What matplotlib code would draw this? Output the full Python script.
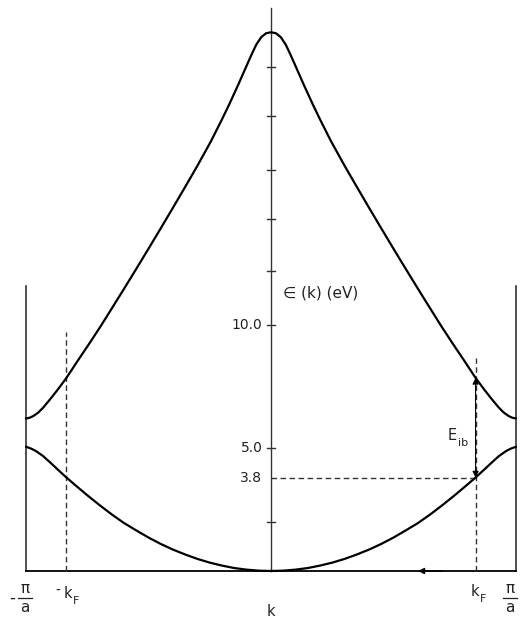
import numpy as np
import matplotlib
matplotlib.use("Agg")
import matplotlib.pyplot as plt

# Band energies (eV) on the half zone 0 <= k <= pi/a (k in units of pi/a); mirrored to -k
k_lower = [0.0, 0.05, 0.1, 0.15, 0.2, 0.25, 0.3, 0.35, 0.4, 0.45, 0.5, 0.55, 0.6, 0.65,
           0.7, 0.75, 0.8, 0.835, 0.87, 0.9, 0.93, 0.96, 0.98, 1.0]
e_lower = [0.0, 0.014, 0.055, 0.12, 0.22, 0.34, 0.49, 0.67, 0.87, 1.1, 1.36, 1.65, 1.95, 2.3,
           2.68, 3.08, 3.5, 3.8, 4.12, 4.4, 4.67, 4.88, 4.98, 5.05]

k_upper = [0.0, 0.02, 0.04, 0.06, 0.08, 0.1, 0.135, 0.17, 0.2, 0.245, 0.3, 0.35, 0.4, 0.45,
           0.5, 0.55, 0.6, 0.65, 0.694, 0.74, 0.79, 0.835, 0.87, 0.9, 0.93, 0.95, 0.97,
           0.985, 1.0]
e_upper = [21.9, 21.86, 21.7, 21.4, 20.98, 20.53, 19.74, 18.98, 18.36, 17.47, 16.48, 15.62,
           14.77, 13.93, 13.1, 12.28, 11.47, 10.67, 9.97, 9.27, 8.53, 7.85, 7.38, 7.0,
           6.64, 6.44, 6.3, 6.23, 6.2]

k_fermi = 0.835
e_fermi = 3.8
e_upper_at_kf = 7.85
tick_values = [2.0, 5.0, 10.0, 12.2, 14.3, 16.3, 18.5, 20.5]
labelled_ticks = {5.0: "5.0", 10.0: "10.0", 3.8: "3.8"}
axis_top = 22.9
edge_top = 11.6
kf_top_left = 9.7
kf_top_right = 8.65

INK = "#222222"

fig = plt.figure(figsize=(5.2, 6.21), dpi=100)
ax = fig.add_axes([0, 0, 1, 1])
ax.set_xlim(-271 / 245, 249 / 245)
ax.set_ylim(-50 / 24.6, 571 / 24.6)
ax.axis("off")


def k_full(ks, es):
    ks = np.asarray(ks)
    es = np.asarray(es)
    return np.concatenate([-ks[::-1], ks[1:]]), np.concatenate([es[::-1], es[1:]])


kl, el = k_full(k_lower, e_lower)
ku, eu = k_full(k_upper, e_upper)
ax.plot(kl, el, color="black", lw=1.6, solid_capstyle="round", solid_joinstyle="round", zorder=3)
ax.plot(ku, eu, color="black", lw=1.6, solid_capstyle="round", solid_joinstyle="round", zorder=3)

# frame: zone boundaries, baseline and energy axis
ax.plot([-1, -1], [0, edge_top], color="#333333", lw=1.2)
ax.plot([1, 1], [0, edge_top], color="#333333", lw=1.2)
ax.plot([-1, 1], [0, 0], color="black", lw=1.3)
ax.plot([0, 0], [0, axis_top], color="#333333", lw=1.0)

tw = 0.016
for t in tick_values:
    ax.plot([-tw, tw], [t, t], color="#333333", lw=1.0)

for v, s in labelled_ticks.items():
    ax.text(-0.035, v, s, ha="right", va="center", fontsize=10, color=INK)

# Fermi wavevector markers
dash = (0, (4, 2.5))
ax.plot([-k_fermi, -k_fermi], [0, kf_top_left], color="#333333", lw=1.0, linestyle=dash)
ax.plot([k_fermi, k_fermi], [0, kf_top_right], color="#333333", lw=1.0, linestyle=dash)
ax.plot([0, k_fermi], [e_fermi, e_fermi], color="#333333", lw=1.0, linestyle=dash)

# interband transition arrow
ax.annotate("", xy=(k_fermi, e_upper_at_kf), xytext=(k_fermi, e_fermi),
            arrowprops=dict(arrowstyle="<|-|>", color="black", lw=0.8,
                            mutation_scale=9, shrinkA=0, shrinkB=0))
ax.text(0.72, 5.5, "E", ha="left", va="center", fontsize=10.5, color=INK)
ax.text(0.765, 5.2, "ib", ha="left", va="center", fontsize=8, color=INK)

# arrow on the k axis
ax.annotate("", xy=(0.6, 0), xytext=(0.7, 0),
            arrowprops=dict(arrowstyle="-|>", color="black", lw=1.0,
                            mutation_scale=9, shrinkA=0, shrinkB=0))

ax.text(0.05, 11.3, "∈ (k) (eV)", ha="left", va="center", fontsize=11, color=INK)

# bottom labels
ax.text(-1.057, -1.1, "-", ha="center", va="center", fontsize=12, color=INK)
ax.text(-1.004, -0.72, "π", ha="center", va="center", fontsize=11, color=INK)
ax.plot([-1.032, -0.976], [-1.1, -1.1], color=INK, lw=0.9)
ax.text(-1.004, -1.47, "a", ha="center", va="center", fontsize=11, color=INK)

ax.text(0.976, -0.72, "π", ha="center", va="center", fontsize=11, color=INK)
ax.plot([0.948, 1.005], [-1.1, -1.1], color=INK, lw=0.9)
ax.text(0.976, -1.47, "a", ha="center", va="center", fontsize=11, color=INK)

ax.text(-0.869, -0.81, "-", ha="center", va="center", fontsize=10, color=INK)
ax.text(-0.83, -0.93, "k", ha="center", va="center", fontsize=10.5, color=INK)
ax.text(-0.795, -1.2, "F", ha="center", va="center", fontsize=8, color=INK)
ax.text(0.833, -0.85, "k", ha="center", va="center", fontsize=10.5, color=INK)
ax.text(0.866, -1.12, "F", ha="center", va="center", fontsize=8, color=INK)

ax.text(0.0, -1.63, "k", ha="center", va="center", fontsize=10.5, color=INK)

fig.savefig("out.png", dpi=100)
